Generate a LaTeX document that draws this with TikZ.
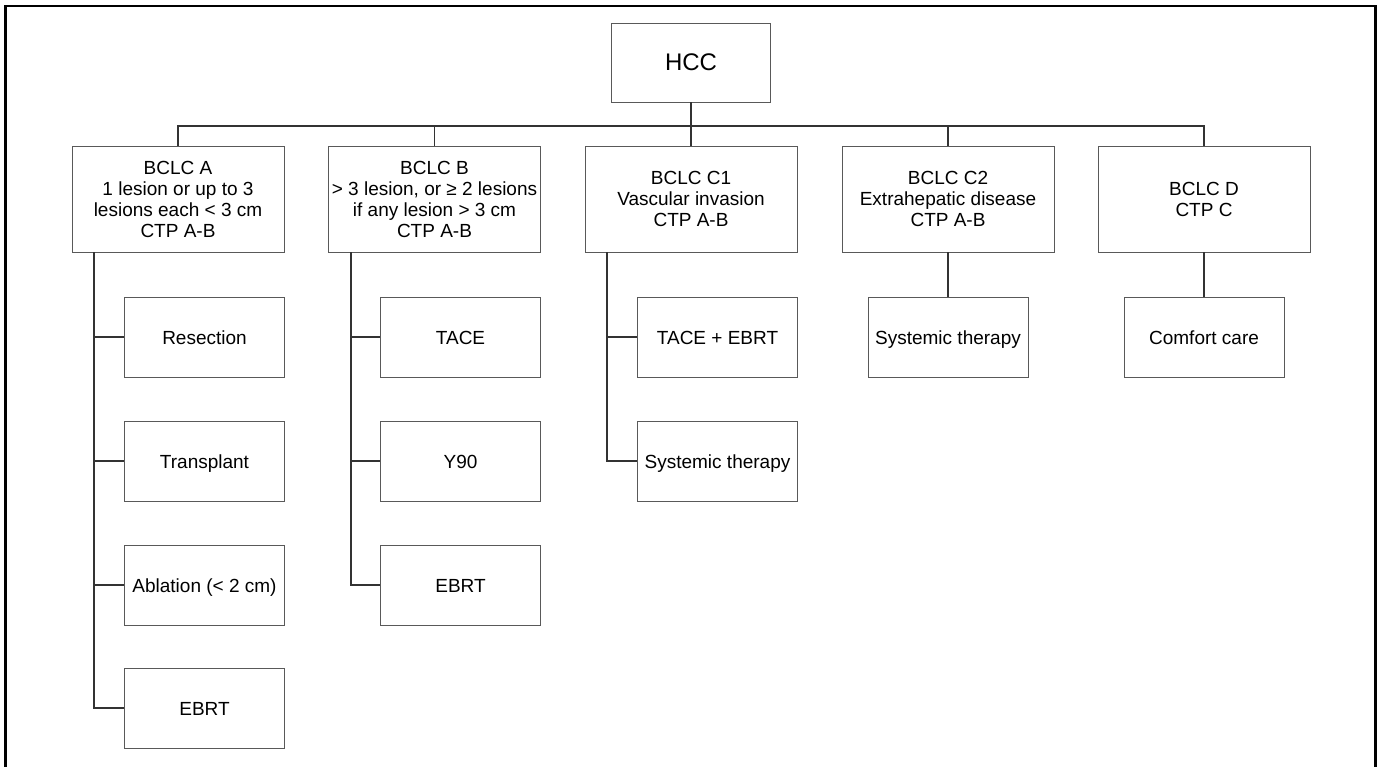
\documentclass[tikz,border=0pt]{standalone}
\usepackage{fontspec}
\setmainfont{Liberation Sans}
\begin{document}
\begin{tikzpicture}[x=1pt,y=-1pt,
  box/.style={draw=black!65,line width=0.8pt,rectangle,align=center,inner sep=2pt,
    font=\fontsize{19}{21}\selectfont},
  topbox/.style={box,minimum width=159pt,minimum height=79pt,font=\fontsize{24}{28}\selectfont},
  stagebox/.style={box,minimum width=212pt,minimum height=106pt},
  leafbox/.style={box,minimum width=160pt,minimum height=80pt,text height=17pt,text depth=3pt},
  link/.style={draw=black!80,line width=1.4pt},
  frame/.style={draw=black,line width=2.6pt}]
\useasboundingbox (0,0) rectangle (1378,766);
\draw[frame] (5.3,770) -- (5.3,6) -- (1375.7,6) -- (1375.7,770);

\node[topbox] (hcc) at (691,62.5) {HCC};

\node[stagebox] (A)  at (178,199)  {BCLC A\\1 lesion or up to 3\\lesions each < 3 cm\\CTP A-B};
\node[stagebox] (B)  at (434.5,199) {BCLC B\\> 3 lesion, or ≥ 2 lesions\\if any lesion > 3 cm\\CTP A-B};
\node[stagebox] (C1) at (691,199)  {BCLC C1\\Vascular invasion\\CTP A-B};
\node[stagebox] (C2) at (948,199)  {BCLC C2\\Extrahepatic disease\\CTP A-B};
\node[stagebox] (D)  at (1204,199) {BCLC D\\CTP C};

\node[leafbox] (a1) at (204.5,337) {Resection};
\node[leafbox] (a2) at (204.5,461) {Transplant};
\node[leafbox] (a3) at (204.5,585) {Ablation (< 2 cm)};
\node[leafbox] (a4) at (204.5,708) {EBRT};

\node[leafbox] (b1) at (460.5,337) {TACE};
\node[leafbox] (b2) at (460.5,461) {Y90};
\node[leafbox] (b3) at (460.5,585) {EBRT};

\node[leafbox] (c1) at (717.5,337) {TACE + EBRT};
\node[leafbox] (c2) at (717.5,461) {Systemic therapy};

\node[leafbox] (d1) at (948,337) {Systemic therapy};
\node[leafbox] (e1) at (1204,337) {Comfort care};

% bus
\coordinate (bus) at (0,126);
\draw[link] (hcc.south) -- (C1.north);
\draw[link] (A.north) -- (A.north |- bus) -- (D.north |- bus) -- (D.north);
\draw[link] (B.north |- bus) -- (B.north);
\draw[link] (C2.north |- bus) -- (C2.north);

% spines
\coordinate (sA) at (94,0);
\coordinate (sB) at (351,0);
\coordinate (sC) at (607,0);
\draw[link] (A.south -| sA) |- (a4.west);
\draw[link] (sA |- a1.west) -- (a1.west);
\draw[link] (sA |- a2.west) -- (a2.west);
\draw[link] (sA |- a3.west) -- (a3.west);

\draw[link] (B.south -| sB) |- (b3.west);
\draw[link] (sB |- b1.west) -- (b1.west);
\draw[link] (sB |- b2.west) -- (b2.west);

\draw[link] (C1.south -| sC) |- (c2.west);
\draw[link] (sC |- c1.west) -- (c1.west);

\draw[link] (C2.south) -- (d1.north);
\draw[link] (D.south) -- (e1.north);
\end{tikzpicture}
\end{document}
